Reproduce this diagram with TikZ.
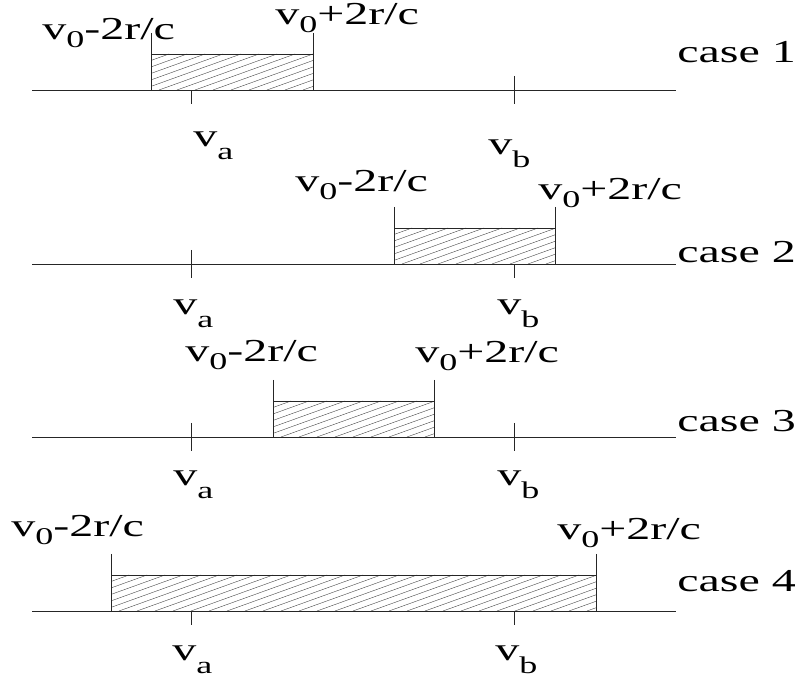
\documentclass[tikz,border=0pt]{standalone}
\usepackage{fontspec}
\setmainfont{Liberation Serif}
\usetikzlibrary{positioning}

% lowered index, as in v_0, v_a
\newcommand{\lowidx}[2]{\raisebox{-#1pt}{\fontsize{24}{24}\selectfont #2}}

\tikzset{
  lbl/.style={inner sep=0pt, anchor=base west, xscale=1.5,
    font=\fontsize{32}{34}\selectfont},
  axisline/.style={line width=0.8pt, black!85},
  hatchline/.style={line width=0.35pt, black!80}
}

\begin{document}
\begin{tikzpicture}[x=1pt, y=-1pt]
\useasboundingbox (0,0) rectangle (804,684);

% case / axis y / interval ends / label positions
\foreach \n/\y/\xl/\xr/\lx/\ly/\rx/\ry/\ax/\ay/\bx/\by/\cy in {
  1/90/151/313/42/40/275/25/193/147/488/155/63,
  2/264/394/555/295/192/538/200/173/315/497/315/263,
  3/437/273/434/185/362/415/363/173/486/497/486/432,
  4/611/111/596/11/537/557/540/172/660/495/660/592}{

  % Axis with ticks
  \draw[axisline] (32,\y) -- (676,\y);
  \coordinate (ta\n) at (191,\y);
  \coordinate (tb\n) at (514,\y);
  \draw[axisline] ([yshift=14pt]ta\n) -- ([yshift=-14pt]ta\n);
  \draw[axisline] ([yshift=14pt]tb\n) -- ([yshift=-14pt]tb\n);

  % Interval box
  \fill[white] (\xl,\y-36) rectangle (\xr,\y);
  \begin{scope}
    \clip (\xl,\y-36) rectangle (\xr,\y);
    \foreach \k in {0,...,34}
      \draw[hatchline] (\xl-100+\k*18,\y) -- ++(100,-36);
  \end{scope}
  \draw[axisline] (\xl,\y-57) -- (\xl,\y) (\xr,\y-57) -- (\xr,\y);
  \draw[axisline] (\xl,\y-36) -- (\xr,\y-36);

  % Labels
  \node[lbl] (lo\n) at (\lx,\ly) {v\lowidx{8}{0}-2r/c};
  \node[lbl] (hi\n) at (\rx,\ry) {v\lowidx{8}{0}+2r/c};
  \node[lbl] (va\n) at (\ax,\ay) {v\lowidx{13}{a}};
  \node[lbl] (vb\n) at (\bx,\by) {v\lowidx{13}{b}};
  \node[lbl] (case\n) at (677,\cy) {case \n};
}

\end{tikzpicture}
\end{document}
